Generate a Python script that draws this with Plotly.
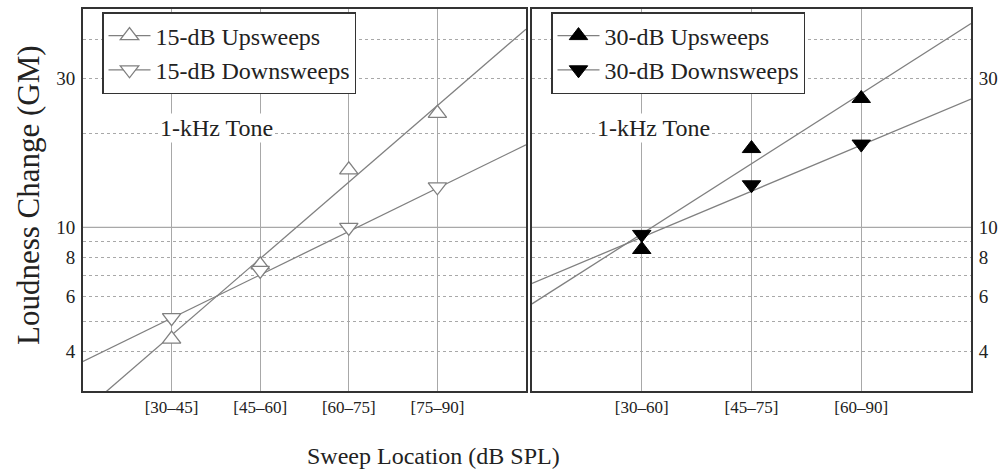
import plotly.graph_objects as go

# ---------------- data ----------------
left_x = [1, 2, 3, 4]
left_cats = ["[30–45]", "[45–60]", "[60–75]", "[75–90]"]
right_x = [1, 2, 3]
right_cats = ["[30–60]", "[45–75]", "[60–90]"]

up15 = [4.39, 7.59, 15.3, 23.2]
down15 = [5.14, 7.29, 10.0, 13.5]
up30 = [8.5, 17.9, 25.9]
down30 = [9.5, 13.7, 18.5]

# fitted lines (straight on the log axis), values at panel edges
fit_left_x = [0, 5]
fit_up15 = [2.57, 43.2]
fit_down15 = [3.72, 18.4]
fit_right_x = [0, 4]
fit_up30 = [5.69, 45.0]
fit_down30 = [6.62, 25.8]

y_grid_vals = [4, 5, 6, 7, 8, 9, 10, 20, 30, 40]
y_tick_text = ["4", "", "6", "", "8", "", "10", "", "30", ""]

# ---------------- styling ----------------
W, H = 999, 473
FONT = "Liberation Serif"
TXT = "#222222"
LINE = "#808080"
GRID = "#a8a8a8"
FRAME = "#333333"


def px(x):
    return x / W


def py(y):
    return 1 - y / H


fig = go.Figure()

# fit lines
for fx, fy, xa, ya in ((fit_left_x, fit_up15, "x", "y"),
                       (fit_left_x, fit_down15, "x", "y"),
                       (fit_right_x, fit_up30, "x2", "y2"),
                       (fit_right_x, fit_down30, "x2", "y2")):
    fig.add_trace(go.Scatter(x=fx, y=fy, mode="lines",
                             line=dict(color=LINE, width=1.3), showlegend=False,
                             xaxis=xa, yaxis=ya))

MS = 16
open_marker = dict(color="white", line=dict(color=LINE, width=1.3), size=MS)
fill_marker = dict(color="black", line=dict(color="black", width=1), size=MS)

# data markers
fig.add_trace(go.Scatter(x=left_x, y=up15, mode="markers",
                         marker=dict(symbol="triangle-up", **open_marker),
                         showlegend=False, xaxis="x", yaxis="y"))
fig.add_trace(go.Scatter(x=left_x, y=down15, mode="markers",
                         marker=dict(symbol="triangle-down", **open_marker),
                         showlegend=False, xaxis="x", yaxis="y"))
fig.add_trace(go.Scatter(x=right_x, y=up30, mode="markers",
                         marker=dict(symbol="triangle-up", **fill_marker),
                         showlegend=False, xaxis="x2", yaxis="y2"))
fig.add_trace(go.Scatter(x=right_x, y=down30, mode="markers",
                         marker=dict(symbol="triangle-down", **fill_marker),
                         showlegend=False, xaxis="x2", yaxis="y2"))


# legend-only entries (line through marker)
def leg(name, symbol, mk, legend):
    return go.Scatter(x=[None], y=[None], mode="lines+markers", name=name,
                      line=dict(color=LINE, width=1.3),
                      marker=dict(symbol=symbol, **mk),
                      legend=legend,
                      xaxis="x" if legend == "legend" else "x2",
                      yaxis="y" if legend == "legend" else "y2")


fig.add_trace(leg("15-dB Upsweeps", "triangle-up", open_marker, "legend"))
fig.add_trace(leg("15-dB Downsweeps", "triangle-down", open_marker, "legend"))
fig.add_trace(leg("30-dB Upsweeps", "triangle-up", fill_marker, "legend2"))
fig.add_trace(leg("30-dB Downsweeps", "triangle-down", fill_marker, "legend2"))

y_lo, y_hi = 0.476, 1.700  # log10 range

common_x = dict(showgrid=True, gridcolor=GRID, gridwidth=1.2, zeroline=False,
                showline=True, mirror=True, linecolor=FRAME, linewidth=2,
                ticks="", tickfont=dict(family=FONT, size=17, color=TXT),
                automargin=False, fixedrange=True)
common_y = dict(type="log", range=[y_lo, y_hi], tickmode="array",
                tickvals=y_grid_vals, ticktext=y_tick_text,
                showgrid=True, gridcolor=GRID, gridwidth=1.2, griddash="dot",
                zeroline=False, showline=True, mirror=True, linecolor=FRAME,
                linewidth=2, ticks="",
                tickfont=dict(family=FONT, size=19, color=TXT),
                automargin=False, fixedrange=True)

leg_common = dict(bgcolor="white", bordercolor=FRAME, borderwidth=1.5,
                  font=dict(family=FONT, size=24, color=TXT),
                  xanchor="left", yanchor="top",
                  traceorder="normal", itemwidth=42)

fig.update_layout(
    width=W, height=H,
    margin=dict(l=0, r=0, t=0, b=0),
    paper_bgcolor="white", plot_bgcolor="white",
    font=dict(family=FONT, color=TXT),
    xaxis=dict(domain=[px(83), px(526)], range=[0, 5], tickvals=left_x,
               ticktext=left_cats, anchor="y", **common_x),
    yaxis=dict(domain=[py(391), py(9)], anchor="x", side="left",
               ticklabelstandoff=2, **common_y),
    xaxis2=dict(domain=[px(532), px(971)], range=[0, 4], tickvals=right_x,
                ticktext=right_cats, anchor="y2", **common_x),
    yaxis2=dict(domain=[py(391), py(9)], anchor="x2", side="right",
                ticklabelstandoff=2, **common_y),
    legend=dict(x=px(102), y=py(12), **leg_common),
    legend2=dict(x=px(551), y=py(12), **leg_common),
    showlegend=True,
)

# solid gridline at 10 on both panels
for xr, yr in (("x", "y"), ("x2", "y2")):
    fig.add_shape(type="line", xref=f"{xr} domain", yref=yr, x0=0, x1=1,
                  y0=10, y1=10, line=dict(color=GRID, width=1.3), layer="below")

# annotations
for cx in (216, 653):
    fig.add_annotation(x=px(cx), y=py(128), xref="paper", yref="paper",
                       xanchor="center", yanchor="middle",
                       text="1-kHz Tone", showarrow=False, bgcolor="white",
                       font=dict(family=FONT, size=24, color=TXT))
fig.add_annotation(x=px(433), y=py(456), xref="paper", yref="paper",
                   xanchor="center", yanchor="middle",
                   text="Sweep Location (dB SPL)", showarrow=False,
                   font=dict(family=FONT, size=24, color=TXT))
fig.add_annotation(x=px(28), y=py(195), xref="paper", yref="paper",
                   xanchor="center", yanchor="middle",
                   text="Loudness Change (GM)", showarrow=False, textangle=-90,
                   font=dict(family=FONT, size=31, color=TXT))

fig.write_html("out.html")
